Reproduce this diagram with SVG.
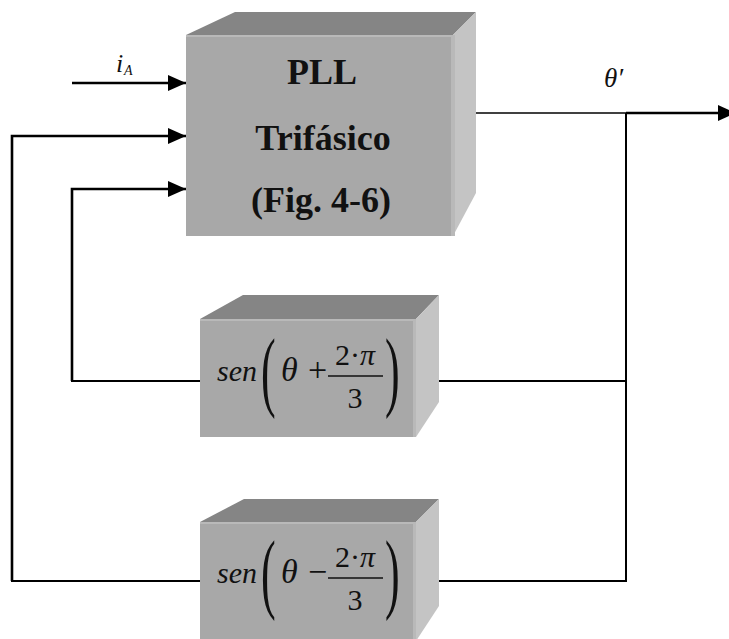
<svg xmlns="http://www.w3.org/2000/svg" width="729" height="639" viewBox="0 0 729 639">
  <style>
    .front { fill: #a8a8a8; }
    .top { fill: #858585; }
    .side { fill: #c4c4c4; }
    .edge { fill: #b9b9b9; }
    .wire { fill: none; stroke: #000; stroke-width: 2; }
    .thin { fill: none; stroke: #000; stroke-width: 1.4; }
    .feed { fill: none; stroke: #000; stroke-width: 2.6; }
    text { font-family: "Liberation Serif", "DejaVu Serif", serif; fill: #111; }
    .title { font-weight: bold; font-size: 36px; text-anchor: middle; }
    .it { font-style: italic; }
    .m { font-size: 30px; }
    .big { font-size: 34px; }
    .paren { font-size: 88px; }
  </style>
  <defs>
    <marker id="arrow" markerUnits="userSpaceOnUse" markerWidth="18" markerHeight="16" refX="18" refY="8" orient="auto">
      <path d="M0,0 L18,8 L0,16 Z" fill="#000"/>
    </marker>
  </defs>

  <!-- connectors -->
  <g id="connectors">
    <line class="feed" x1="72" y1="83" x2="186" y2="83" marker-end="url(#arrow)"/>
    <polyline class="feed" points="12,581 12,136 186,136" marker-end="url(#arrow)"/>
    <polyline class="feed" points="72,381 72,189 186,189" marker-end="url(#arrow)"/>
    <line class="wire" x1="71" y1="381" x2="200" y2="381"/>
    <line class="wire" x1="11" y1="581" x2="200" y2="581"/>
    <line class="thin" x1="476" y1="113" x2="626" y2="113"/>
    <line class="feed" x1="626" y1="113" x2="736" y2="113" marker-end="url(#arrow)"/>
    <line class="wire" x1="626" y1="113" x2="626" y2="582"/>
    <line class="wire" x1="439" y1="381" x2="627" y2="381"/>
    <line class="wire" x1="439" y1="581" x2="627" y2="581"/>
  </g>

  <!-- input and output labels -->
  <g id="label-ia">
    <text class="it" x="116" y="72" style="font-size:26px">i</text>
    <text class="it" x="124" y="75" style="font-size:14px">A</text>
  </g>
  <g id="label-theta">
    <text class="it" x="604" y="87" style="font-size:27px">θ′</text>
  </g>

  <!-- three-phase PLL block -->
  <g id="pll">
    <polygon class="top" points="186,35 235,12 476,12 453,35"/>
    <polygon class="side" points="453,35 476,12 476,193 453,236"/>
    <rect class="front" x="186" y="35" width="267" height="201"/>
    <rect class="edge" x="186" y="35" width="267" height="2"/>
    <rect class="edge" x="451" y="35" width="4" height="201"/>
    <text class="title" x="322" y="84">PLL</text>
    <text class="title" x="323" y="150">Trifásico</text>
    <text class="title" x="321" y="212">(Fig. 4-6)</text>
  </g>

  <!-- sin(theta + 2pi/3) block -->
  <g id="sen-plus">
    <polygon class="top" points="200,319 243,295 439,295 416,319"/>
    <polygon class="side" points="416,319 439,295 439,402 416,437"/>
    <rect class="front" x="200" y="319" width="216" height="118"/>
    <rect class="edge" x="200" y="319" width="216" height="2"/>
    <rect class="edge" x="413" y="319" width="3" height="118"/>
    <text class="it m" x="217" y="381">sen</text>
    <text class="paren" transform="translate(261,400) scale(0.5,1)">(</text>
    <text class="it big" x="281" y="381">θ</text>
    <text class="big" x="308" y="381">+</text>
    <text class="m" x="355" y="365" text-anchor="middle">2·<tspan class="it">π</tspan></text>
    <line x1="328" y1="376" x2="383" y2="376" stroke="#111" stroke-width="1.3"/>
    <text class="m" x="355" y="408" text-anchor="middle">3</text>
    <text class="paren" transform="translate(385,400) scale(0.5,1)">)</text>
  </g>

  <!-- sin(theta - 2pi/3) block -->
  <g id="sen-minus">
    <polygon class="top" points="200,522 244,499 439,499 416,522"/>
    <polygon class="side" points="416,522 439,499 439,606 416,641"/>
    <rect class="front" x="200" y="522" width="216" height="119"/>
    <rect class="edge" x="200" y="522" width="216" height="2"/>
    <rect class="edge" x="413" y="522" width="3" height="119"/>
    <text class="it m" x="217" y="583">sen</text>
    <text class="paren" transform="translate(261,602) scale(0.5,1)">(</text>
    <text class="it big" x="281" y="583">θ</text>
    <text class="big" x="308" y="583">−</text>
    <text class="m" x="355" y="567" text-anchor="middle">2·<tspan class="it">π</tspan></text>
    <line x1="328" y1="578" x2="383" y2="578" stroke="#111" stroke-width="1.3"/>
    <text class="m" x="355" y="610" text-anchor="middle">3</text>
    <text class="paren" transform="translate(385,602) scale(0.5,1)">)</text>
  </g>
</svg>
